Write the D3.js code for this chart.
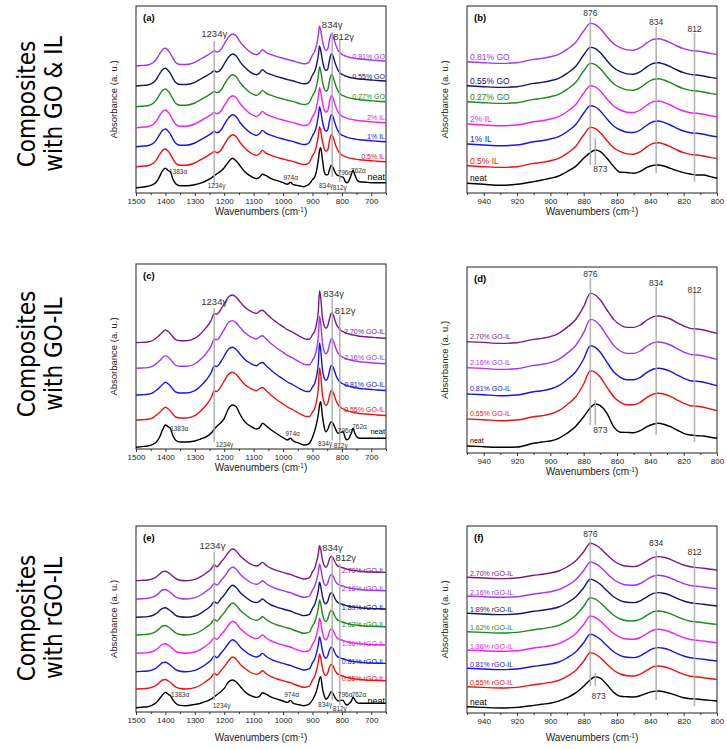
<!DOCTYPE html>
<html>
<head>
<meta charset="utf-8">
<script src="https://cdn.jsdelivr.net/npm/d3@7"></script>
<style>
  body { margin: 0; background: #fff; }
  text { font-family: "Liberation Sans", Arial, sans-serif; }
  .side { font-family: "DejaVu Sans Condensed", "DejaVu Sans", sans-serif; font-stretch: condensed; font-size: 24px; }
  .tick text { font-size: 8px; }
</style>
</head>
<body>
<div id="chart"></div>
<script>
// Wavenumber grids (cm-1)
var wnWide = [1500,1480,1460,1440,1430, 1420,1410,1400,1390,1383, 1375,1365,1350,1330,1300,
  1280,1260,1245,1234,1225, 1210,1200,1185,1172,1160, 1145,1130,1110,1090,1080,
  1070,1058,1040,1020,1000, 985,975,965,945,930, 920,910,900,892,886,
  880,876,872,866,860, 854,848,842,836,830, 824,818,812,804,796,
  788,782,776,768,762, 756,748,740,720,700, 680,650];
var wnNarrow = [950,940,930,920,910, 905,900,895,890,885, 880,876,873,870,866,
  862,858,854,850,846, 842,838,835,832,828, 824,820,816,812,808, 804,800];

// Spectra, absorbance (a.u.) above the 1500 / 950 cm-1 level
var neatA = [0,0.5,1.5,3.5,6, 11,17,19.5,17,16, 9,4,2,2,3, 4.5,7,9.5,12,14, 17,20,26,29.5,27,
  21.5,16,11.5,9,10.5, 13.5,12,9,7,5, 3.5,5.5,3,2,1, 2,4,8,11,17, 28,37,40,28,16,
  13,13,18,22.5,20, 16,13,12,11,10.5, 6,5,7,13,17.5, 13,7.5,6,5.5,5, 5,5];
var compA = [0,0.5,1,3.7,7, 12,16.3,17.7,15.3,12.5, 8,3.5,1.5,1.5,3.7, 7,10.3,13,15.3,14, 17,22,29,32,30.3,
  23.7,18.7,13.7,11.3,13, 16.3,13.5,11.3,9.3,7.7, 6.5,5.8,5,3.2,2.2, 2.5,4.5,11,15,21, 31,40,36,25,18,
  15.5,17,26,32,30, 24,19,15.3,12.5,11, 10,9.3,8.8,8.3,8, 7.7,7.3,7,6.5,6, 5.5,5];
var neatC = [0,0.7,1.3,3.3,5.5, 10,17,22.3,20.5,19, 12,7,5.3,5.3,6.3, 8.3,10.7,14,18,21, 25,29,39,42.3,40.7,
  32.3,25.5,21,18.3,19.5, 24,21.5,17.3,13.3,9.7, 7.3,9,6.3,4,2.3, 2.5,4,10,17,24, 33,42,45.6,31,20,
  15.5,18,22.5,25.6,24, 20,16,14,15,15.6, 9,7.5,9,14,19, 14,10,9,9,9, 9,9];
var compC = [0,0.3,0.7,2.7,5, 7.5,10.5,12.7,11,9, 6,3,2,2,4.3, 9,15.5,22,29,28.5, 34,39,46,47.7,45.7,
  40.5,35.5,31.5,29.3,31.5, 32.5,29.5,24.5,20,16, 13,11.5,10,6.5,4.3, 3.5,3.5,8,12,19, 32,52,45,25,17,
  14.5,17,24,29.5,28, 23,18,15,12.5,11, 10,9.3,8.7,8,7.7, 7.3,7,6.5,6,5.5, 5,4.5];
var neatE = [0,0.5,1,3.3,5.5, 9,12.7,15.3,13.3,12, 8,4.5,2.3,2,3.3, 4.5,6.5,8.5,11,13, 16.5,19.3,26,27.7,26,
  21,16,12,10.3,11.5, 15,13.5,10.5,8.5,6.7, 5.3,7.3,4.3,3,2, 2.5,4,7.7,12.5,17, 24,29,31,19.4,12,
  8.5,10,13,16,14, 10.5,8,6.7,7.5,7.3, 3.7,2.7,4,6.5,10.4, 8,5,4.4,4.4,4.4, 4.4,4.4];
var compE = [0,0.3,0.7,2.3,4, 6.5,9,9.5,8,6.5, 4.5,2,0.5,0,1.3, 4,8,11.5,15.7,14, 19,22.3,28.5,32,30,
  24.5,20.7,16.5,14.7,16, 18.3,15.5,12.3,10,8.3, 7,6.3,5,3,1.7, 2,3,9,13,19, 27,35,31,21,15,
  13.5,16,22,24.5,23, 19,16,14.5,13.5,13, 12,11.5,11,10.5,10.3, 10,9.8,9.5,9,8.7, 8.5,8.3];

var neatB = [0,-1,-2,-1,1.7, 3.3,5,7.3,11.7,16.7, 25,30.7,33.3,31.7,25, 16.7,11,10.8,10,12,
  16,18,18.3,17.3,15, 12.7,10.7,9.3,8.3,8.3, 6.7,5];
var compB = [0,-1,-1.7,-1,2.3, 3.3,5,7.3,12.3,19, 30.7,38.3,37,33,25, 18,14,11.8,11.5,14,
  19,22.5,23,21.7,19, 15.7,13,11.3,10.7,9.7, 8.3,7.3];
var neatD = [0,-0.7,-1.3,-1,2.7, 4,5,7.7,12.7,19.3, 29.3,38.3,42,40.3,32.7, 19.3,13.8,13.6,13.3,15.3,
  19.3,22,22.7,21.7,19.3, 16,12.7,11,10.3,10, 8.7,7.7];
var compD = [0,-0.7,-1.7,-1,2.3, 3.3,5,8.3,14.3,21.7, 35,48.3,46.7,41.7,31.7, 22.3,16.7,14.3,14.3,16.7,
  21.7,25,25.7,25,22.7, 19,15.7,13.3,12.7,11.7, 10,8.3];
var neatF = [0,-0.7,-1.3,-0.7,1.3, 2.5,3.5,5.5,9,13.5, 20.5,27,30,28.5,22, 14.5,10.5,10,9.7,11,
  13.5,15.3,15.7,15,13.3, 11,9,8,7.7,7, 6.3,5.7];
var compF = [0,-0.7,-1.3,-0.7,2, 3,4.3,6.3,10.3,16, 25.5,34,32.5,29,22.5, 16.5,12.7,11,10.7,12.5,
  16.5,20,20.7,20,18, 15,12.3,10.5,9.7,9, 8,7.3];

// Samples, bottom to top, and their stacking offsets (a.u.)
var samplesGO = ["neat", "0.5% IL", "1% IL", "2% IL", "0.27% GO", "0.55% GO", "0.81% GO"];
var samplesGOIL = ["neat", "0.55% GO-IL", "0.81% GO-IL", "2.16% GO-IL", "2.70% GO-IL"];
var samplesRGO = ["neat", "0.55% rGO-IL", "0.81% rGO-IL", "1.36% rGO-IL", "1.62% rGO-IL",
  "1.89% rGO-IL", "2.16% rGO-IL", "2.70% rGO-IL"];
var offsetsA = [5.3, 26.3, 46.3, 65.3, 86.3, 107, 127];
var offsetsB = [9.7, 27.3, 49, 69, 91.3, 107.3, 131.3];
var offsetsC = [1.7, 29, 54, 80.7, 106.3];
var offsetsD = [7, 34, 59, 85.3, 111.3];
var offsetsE = [4.3, 23, 40.3, 58.7, 77, 94.7, 113, 131.3];
var offsetsF = [6.3, 26.3, 44.7, 63, 81.3, 99.7, 117, 135.7];

// Tick labels
var majorWide = [1500, 1400, 1300, 1200, 1100, 1000, 900, 800, 700];
var minorWide = [1450, 1350, 1250, 1150, 1050, 950, 850, 750, 650];
var majorNarrow = [940, 920, 900, 880, 860, 840, 820, 800];
var minorNarrow = [950, 930, 910, 890, 870, 850, 830, 810];

// Band marker lines [wavenumber, from, to] and notes [text, wavenumber, height, kind]
var linesA = [[1234, 8, 152], [833, 16, 161], [807, 11, 154]];
var linesC = [[1234, 7, 141], [833, 9, 151], [807, 4, 134]];
var linesE = [[1234, 12, 160], [833, 12, 156], [807, 7, 148]];
var linesB = [[876, 28, 176], [873, 28, 55], [836.5, 20, 166], [813.5, 11, 160]];
var linesD = [[876, 28, 175], [873, 28, 53], [836.5, 18, 166], [813.5, 11, 160]];
var linesF = [[876, 27, 175], [873, 27, 40], [836.5, 13, 162], [813.5, 7, 155]];

var notesA = [["1234γ", 1234, 156, "peak"], ["834γ", 833, 165, "peak"], ["812γ", 794, 153, "peak"],
  ["1383α", 1357, 19, "band"], ["1234γ", 1226, 5, "band"], ["974α", 974, 13, "band"],
  ["834γ", 854, 5, "band"], ["812γ", 807, 3, "band"], ["796α", 790, 18.5, "band"], ["762α", 744, 20, "band"]];
var notesC = [["1234γ", 1234, 144, "peak"], ["834γ", 828, 152, "peak"], ["812γ", 789, 135, "peak"],
  ["1383α", 1353, 18, "band"], ["1234γ", 1199, 2, "band"], ["974α", 968, 13, "band"],
  ["834γ", 857, 3, "band"], ["812γ", 804, 1, "band"], ["796α", 789, 16, "band"], ["762α", 740, 20, "band"]];
var notesE = [["1234γ", 1240, 163, "peak"], ["834γ", 832, 161, "peak"], ["812γ", 787, 151.5, "peak"],
  ["1383α", 1350, 15, "band"], ["1234γ", 1209, 4, "band"], ["974α", 971, 15, "band"],
  ["834γ", 857, 5, "band"], ["812γ", 807, 1, "band"], ["796α", 789, 15, "band"], ["762α", 742, 15, "band"]];
var notesB = [["876", 876, 177, "peak"], ["834", 836.5, 168.5, "peak"], ["812", 813.5, 161, "peak"], ["873", 870, 21, "peak"]];
var notesD = [["876", 876, 176, "peak"], ["834", 836.5, 167.5, "peak"], ["812", 813.5, 160, "peak"], ["873", 870, 20, "peak"]];
var notesF = [["876", 876, 176.5, "peak"], ["834", 836.5, 167.5, "peak"], ["812", 813.5, 158.5, "peak"], ["873", 871, 14, "peak"]];

var sideTitles = [["Composites", "with GO & IL"], ["Composites", "with GO-IL"], ["Composites", "with rGO-IL"]];

(function() {
    var black = "#000000", red = "#f01010", blue = "#1515e6", magenta = "#f020f0",
        green = "#1c8a1c", navy = "#15156e", violet = "#a035f5", plum = "#7d1a80";
    var colorsGO = [black, red, blue, magenta, green, navy, violet];
    var colorsGOIL = [black, red, blue, violet, plum];
    var colorsRGO = [black, red, blue, magenta, green, navy, violet, plum];

    var svg = d3.select("#chart")
        .append("svg")
        .attr("width", 727)
        .attr("height", 749);

    // box = [left, right, top, bottom]
    var panels = [
        { tag: "(a)", box: [136, 386, 6, 193], wide: true, wn: wnWide, neat: neatA, comp: compA,
          names: samplesGO, offsets: offsetsA, colors: colorsGO, lines: linesA, notes: notesA,
          labelDy: -2.5, labelSize: 7, neatSize: 9, titleDy: 21.5 },
        { tag: "(b)", box: [467, 717, 6, 193], wide: false, wn: wnNarrow, neat: neatB, comp: compB,
          names: samplesGO, offsets: offsetsB, colors: colorsGO, lines: linesB, notes: notesB,
          labelDy: -2, labelSize: 8.5, neatSize: 8.5, titleDy: 21.5 },
        { tag: "(c)", box: [136, 386, 264, 449], wide: true, wn: wnWide, neat: neatC, comp: compC,
          names: samplesGOIL, offsets: offsetsC, colors: colorsGOIL, lines: linesC, notes: notesC,
          labelDy: -4, labelSize: 7, neatSize: 7.5, titleDy: 22 },
        { tag: "(d)", box: [467, 717, 267, 453], wide: false, wn: wnNarrow, neat: neatD, comp: compD,
          names: samplesGOIL, offsets: offsetsD, colors: colorsGOIL, lines: linesD, notes: notesD,
          labelDy: -3, labelSize: 7, neatSize: 7, titleDy: 21.5 },
        { tag: "(e)", box: [136, 386, 526, 712], wide: true, wn: wnWide, neat: neatE, comp: compE,
          names: samplesRGO, offsets: offsetsE, colors: colorsRGO, lines: linesE, notes: notesE,
          labelDy: 0.5, labelSize: 7, neatSize: 9, titleDy: 28.5 },
        { tag: "(f)", box: [467, 717, 526, 713], wide: false, wn: wnNarrow, neat: neatF, comp: compF,
          names: samplesRGO, offsets: offsetsF, colors: colorsRGO, lines: linesF, notes: notesF,
          labelDy: -1.5, labelSize: 7, neatSize: 8.5, titleDy: 28 }
    ];

    panels.forEach(drawPanel);

    // Row titles on the far left
    var rowCenters = [104, 354, 618];
    sideTitles.forEach(function(t, i) {
        t.forEach(function(s, k) {
            svg.append("text")
                .attr("class", "side")
                .attr("transform", "translate(" + (35 + k * 27) + "," + rowCenters[i] + ") rotate(-90)")
                .attr("text-anchor", "middle")
                .text(s);
        });
    });

    function drawPanel(p) {
        var left = p.box[0], right = p.box[1], top = p.box[2], bottom = p.box[3];
        var xScale = d3.scaleLinear()
            .domain(p.wide ? [1500, 650] : [950, 800])
            .range([left, right]);
        var yScale = d3.scaleLinear()
            .domain([0, bottom - top])
            .range([bottom, top]);

        var g = svg.append("g");

        // Frame
        g.append("rect")
            .attr("x", left).attr("y", top)
            .attr("width", right - left).attr("height", bottom - top)
            .attr("fill", "none").attr("stroke", "#222").attr("stroke-width", 1);

        // Bottom axis, major and minor ticks
        var major = d3.axisBottom(xScale)
            .tickValues(p.wide ? majorWide : majorNarrow)
            .tickSize(3).tickPadding(2)
            .tickFormat(d3.format("d"));
        var minor = d3.axisBottom(xScale)
            .tickValues(p.wide ? minorWide : minorNarrow)
            .tickSize(2).tickFormat("");

        var ax = g.append("g").attr("transform", "translate(0," + bottom + ")").call(major);
        g.append("g").attr("transform", "translate(0," + bottom + ")").call(minor);
        g.selectAll(".domain").remove();
        g.selectAll(".tick line").attr("stroke", "#333");
        ax.selectAll(".tick text").attr("fill", "#222");

        // Axis titles
        var xt = g.append("text")
            .attr("x", (left + right) / 2)
            .attr("y", bottom + p.titleDy)
            .attr("text-anchor", "middle")
            .attr("font-size", 10)
            .attr("fill", "#222")
            .text("Wavenumbers (cm");
        xt.append("tspan").attr("baseline-shift", "super").attr("font-size", 6.5).text("-1");
        xt.append("tspan").text(")");

        g.append("text")
            .attr("transform", "translate(" + (left - 19.5) + "," + ((top + bottom) / 2) + ") rotate(-90)")
            .attr("text-anchor", "middle")
            .attr("font-size", 9.5)
            .attr("fill", "#222")
            .text("Absorbance (a. u.)");

        // Panel tag
        g.append("text")
            .attr("x", left + 7).attr("y", top + 15)
            .attr("font-size", 9.5).attr("font-weight", "bold")
            .text(p.tag);

        // Spectra
        var line = d3.line()
            .x(function(d) { return xScale(d[0]); })
            .y(function(d) { return yScale(d[1]); })
            .curve(d3.curveMonotoneX);

        var last = p.wn.length - 1;
        p.names.forEach(function(name, i) {
            var shape = i === 0 ? p.neat : p.comp;
            var pts = p.wn.map(function(w, j) { return [w, p.offsets[i] + shape[j]]; });

            g.append("path")
                .datum(pts)
                .attr("d", line)
                .attr("fill", "none")
                .attr("stroke", p.colors[i])
                .attr("stroke-width", 1.4)
                .attr("stroke-linejoin", "round");

            var endPt = p.wide ? pts[last] : pts[0];
            g.append("text")
                .attr("x", p.wide ? right - 1 : left + 3)
                .attr("y", yScale(endPt[1]) + p.labelDy)
                .attr("text-anchor", p.wide ? "end" : "start")
                .attr("font-size", i === 0 ? p.neatSize : p.labelSize)
                .attr("fill", p.colors[i])
                .text(name);
        });

        // Band marker lines
        g.selectAll(".marker")
            .data(p.lines)
            .enter().append("line")
            .attr("class", "marker")
            .attr("x1", function(d) { return xScale(d[0]); })
            .attr("x2", function(d) { return xScale(d[0]); })
            .attr("y1", function(d) { return yScale(d[1]); })
            .attr("y2", function(d) { return yScale(d[2]); })
            .attr("stroke", "#a8a8a8")
            .attr("stroke-opacity", 0.85)
            .attr("stroke-width", 1.6);

        // Band notes
        g.selectAll(".note")
            .data(p.notes)
            .enter().append("text")
            .attr("class", "note")
            .attr("x", function(d) { return xScale(d[1]); })
            .attr("y", function(d) { return yScale(d[2]); })
            .attr("text-anchor", "middle")
            .attr("font-size", function(d) { return d[3] === "peak" ? (p.wide ? 9.5 : 8.5) : 6.5; })
            .attr("fill", "#333")
            .text(function(d) { return d[0]; });
    }
})();
</script>
</body>
</html>
